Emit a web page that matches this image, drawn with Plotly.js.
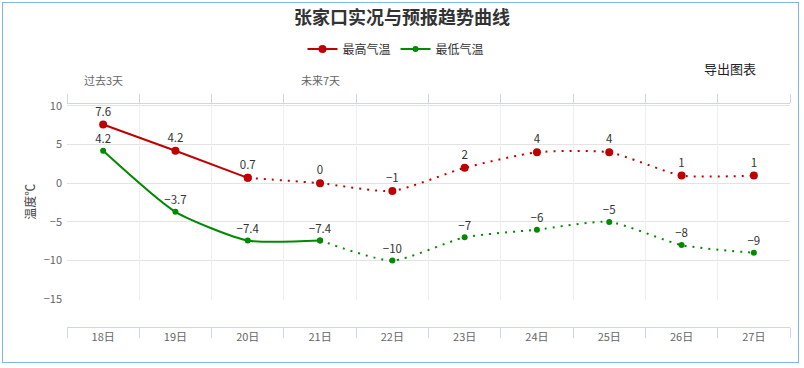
<!DOCTYPE html>
<html>
<head>
<meta charset="utf-8">
<script src="https://cdn.plot.ly/plotly-3.0.1.min.js"></script>
<style>
  html, body { margin: 0; padding: 0; background: #fff; }
  #wrap { position: relative; width: 804px; height: 368px; }
  #chart { width: 804px; height: 368px; }
  #frame { position: absolute; left: 2px; top: 2px; width: 797px; height: 361px;
           border: 1.5px solid #7eb4ea; pointer-events: none; box-sizing: border-box; }
</style>
</head>
<body>
<div id="wrap"><div id="chart"></div><div id="frame"></div></div>
<script>
const categories = ['18日', '19日', '20日', '21日', '22日', '23日', '24日', '25日', '26日', '27日'];
const maxTemp = [7.6, 4.2, 0.7, 0, -1, 2, 4, 4, 1, 1];
const minTemp = [4.2, -3.7, -7.4, -7.4, -10, -7, -6, -5, -8, -9];
const maxObsLast = 2;   // last observed index for max temperature
const minObsLast = 3;   // last observed index for min temperature
const yTicks = [10, 5, 0, -5, -10, -15];

const RED = '#c00000';
const GREEN = '#008a00';
const FONT = '"Noto Sans CJK SC", "Noto Sans", sans-serif';
const SMOOTH = 0.6;

const fmt = v => String(v).replace('-', '\u2212');

function seriesTraces(name, vals, last, color, msize) {
  const solid = {
    x: categories.slice(0, last + 1), y: vals.slice(0, last + 1),
    name: name, legendgroup: name, mode: 'lines+markers+text',
    line: { color: color, width: 2, shape: 'spline', smoothing: SMOOTH },
    marker: { color: color, size: msize },
    text: vals.slice(0, last + 1).map(fmt), textposition: 'top center',
    textfont: { size: 11.5, color: '#333', family: FONT },
    cliponaxis: false, hoverinfo: 'x+y'
  };
  const dotted = {
    x: categories.slice(last), y: vals.slice(last),
    name: name, legendgroup: name, showlegend: false, mode: 'lines+markers+text',
    line: { color: color, width: 2, shape: 'spline', smoothing: SMOOTH, dash: '2px,6px' },
    marker: { color: color, size: msize },
    text: vals.slice(last).map((v, i) => i === 0 ? '' : fmt(v)), textposition: 'top center',
    textfont: { size: 11.5, color: '#333', family: FONT },
    cliponaxis: false, hoverinfo: 'x+y'
  };
  return [solid, dotted];
}

const data = [
  ...seriesTraces('最高气温', maxTemp, maxObsLast, RED, 8),
  ...seriesTraces('最低气温', minTemp, minObsLast, GREEN, 6),
  // empty helper trace so the top frame axis (x2) is drawn
  { x: [], y: [], xaxis: 'x2', yaxis: 'y', mode: 'lines', showlegend: false, hoverinfo: 'skip' }
];

const n = categories.length;
const boundaries = Array.from({ length: n + 1 }, (_, i) => i - 0.5);

const layout = {
  width: 804, height: 368,
  margin: { l: 67, r: 14, t: 104, b: 41 },
  paper_bgcolor: '#fff', plot_bgcolor: '#fff',
  font: { family: FONT, color: '#333' },
  title: {
    text: '张家口实况与预报趋势曲线',
    font: { size: 18, weight: 'bold', color: '#333', family: FONT },
    x: 0.5, xref: 'container', y: 1 - 18 / 368, yref: 'container', yanchor: 'middle'
  },
  showlegend: true,
  legend: {
    orientation: 'h', xref: 'container', yref: 'container',
    x: 396 / 804, xanchor: 'center', y: 1 - 49 / 368, yanchor: 'middle',
    font: { size: 12, color: '#333', family: FONT }, itemwidth: 30
  },
  xaxis: {
    type: 'category', categoryorder: 'array', categoryarray: categories,
    range: [-0.5, n - 0.5], anchor: 'free', position: 0,
    tickson: 'boundaries', ticks: 'outside', ticklen: 10, tickcolor: '#ccd6eb',
    showline: true, linecolor: '#ccd6eb', linewidth: 1,
    showgrid: false, zeroline: false,
    tickfont: { size: 11, color: '#666', family: FONT }, fixedrange: true
  },
  xaxis2: {
    type: 'linear', overlaying: 'x', side: 'top', anchor: 'y',
    range: [-0.5, n - 0.5], tickmode: 'array', tickvals: boundaries,
    ticks: 'outside', ticklen: 9, tickcolor: '#ccd6eb',
    showticklabels: false, showline: true, linecolor: '#ccd6eb', linewidth: 1,
    showgrid: true, gridcolor: '#eeeeee', gridwidth: 1, zeroline: false
  },
  yaxis: {
    domain: [(327 - 299.6) / 223, 1], range: [-15.05, 10.25],
    tickmode: 'array', tickvals: yTicks,
    tickfont: { size: 11, color: '#666', family: FONT },
    showgrid: true, gridcolor: '#e3e3e3', zeroline: false, showline: false,
    ticks: '', ticklabelstandoff: 4,
    title: { text: '温度℃', font: { size: 12, color: '#444', family: FONT }, standoff: 5 }
  },
  annotations: [
    { text: '过去3天', xref: 'x', x: categories[0], yref: 'paper', y: (327 - 80) / 223,
      xanchor: 'center', yanchor: 'middle',
      showarrow: false, font: { size: 11, color: '#666', family: FONT } },
    { text: '未来7天', xref: 'x', x: categories[3], yref: 'paper', y: (327 - 80) / 223,
      xanchor: 'center', yanchor: 'middle',
      showarrow: false, font: { size: 11, color: '#666', family: FONT } },
    { text: '导出图表', xref: 'paper', x: (730 - 67) / 723, yref: 'paper', y: (327 - 68) / 223,
      xanchor: 'center', yanchor: 'middle',
      showarrow: false, font: { size: 13, color: '#222', family: FONT } }
  ]
};

Plotly.newPlot('chart', data, layout, { displayModeBar: false, staticPlot: true });
</script>
</body>
</html>
